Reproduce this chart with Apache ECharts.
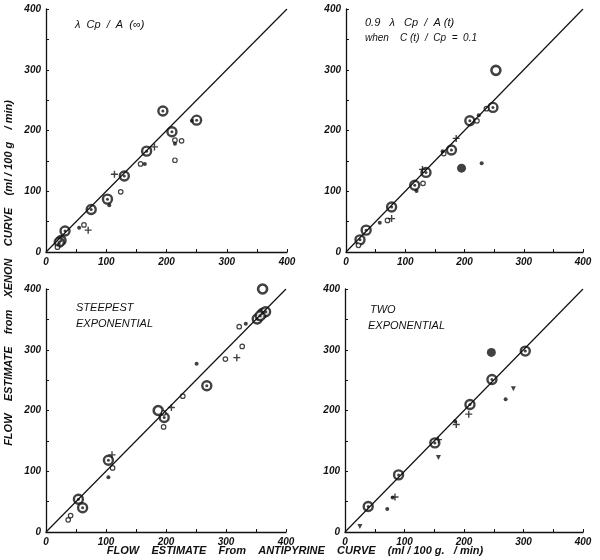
<!DOCTYPE html>
<html><head><meta charset="utf-8">
<script src="https://cdn.jsdelivr.net/npm/echarts@6/dist/echarts.min.js"></script>
<style>html,body{margin:0;padding:0;background:#fff}#c{width:600px;height:560px}</style>
</head><body><div id="c"></div>
<script>
// Identity line
const identity = [[0,0],[400,400]];
const ticks = [0,100,200,300,400];

// Panel 1: λ Cp / A(∞)
const p1Ringed = [[25,19],[22,16],[31.6,34.6],[75,70],[102,87],[130,125],[167,166],[194,232],[209,198],[250,217]];
const p1Open   = [[19,8],[63,44.5],[124,99],[157,145],[214,184],[225,183],[214,151]];
const p1Dot    = [[105,77],[55,40],[164,145],[214,178],[21,12],[242,216]];
const p1Plus   = [[113.6,128],[70,36],[180,173]];

// Panel 2: 0.9 λ Cp / A(t)
const p2Ringed = [[23.6,20],[34,36],[77,74],[116,110],[135,131],[178,168],[209,216],[248,238]];
const p2Filled = [[195,138]];
const p2BigOpen= [[253,299]];
const p2Open   = [[21,11],[70,52],[130,113],[165,162],[221,216],[237,236]];
const p2Dot    = [[57,48],[119,100.5],[163,166],[224,225],[229,146]];
const p2Plus   = [[77,55],[129,136],[186,187]];

// Panel 3: steepest exponential
const p3Ringed = [[54,54],[61,40],[104,118],[197,188.5],[268,240.7],[352,350.5],[361,360],[366,362.6],[357,356]];
const p3BigOpen= [[187,200],[361,400]];
const p3Open   = [[37,20],[41,27],[111,105.5],[196,196],[196,173],[228,223.6],[299,284.6],[327,305.5],[322,338]];
const p3Dot    = [[104,90],[251,277],[333,343]];
const p3Plus   = [[110,127],[209,205],[318,287]];

// Panel 4: two exponential
const p4Ringed = [[39,42],[90,94],[151,146.7],[210,210],[247,251],[303,297.8]];
const p4Filled = [[246,295.6]];
const p4Dot    = [[71,38],[80,56.6],[185,182.4],[270,218.7]];
const p4Plus   = [[84,57.7],[157,152],[208,194],[187,177]];
const p4Tri    = [[25,9],[157,122.5],[283,236]];

const INK = '#111';
const FONT = 'Liberation Sans';
const grids = [
  {left:46, top:9,   width:241, height:243},
  {left:346,top:9,   width:237, height:243},
  {left:46, top:289, width:240, height:243},
  {left:345,top:289, width:238, height:243}
];
function axis(i, isX){
  return {
    type:'value', gridIndex:i, min:0, max:400, interval:50,
    axisLine:{show:true, onZero:false, lineStyle:{color:INK, width:1.3}},
    axisTick:{show:true, inside:true, length:3, lineStyle:{color:INK}},
    splitLine:{show:false},
    axisLabel:{show:true, margin:5, color:INK, fontStyle:'italic', fontWeight:'bold', fontFamily:FONT, fontSize:10,
      formatter:v=> (ticks.indexOf(v)>=0 ? String(v) : '')}
  };
}
const PLUS = 'path://M4,0L6,0L6,4L10,4L10,6L6,6L6,10L4,10L4,6L0,6L0,4L4,4Z';
const series = [];
function add(i, data, kind){
  if(!data) return;
  const base = {type:'scatter', xAxisIndex:i, yAxisIndex:i, data:data, silent:true, animation:false};
  if(kind==='ringed'){
    series.push(Object.assign({}, base, {symbol:'circle', symbolSize:9, itemStyle:{color:'#fff', borderColor:INK, borderWidth:2.4}}));
    series.push(Object.assign({}, base, {symbol:'circle', symbolSize:3, itemStyle:{color:INK}}));
  } else if(kind==='filled'){
    series.push(Object.assign({}, base, {symbol:'circle', symbolSize:9, itemStyle:{color:INK}}));
  } else if(kind==='bigOpen'){
    series.push(Object.assign({}, base, {symbol:'circle', symbolSize:9, itemStyle:{color:'#fff', borderColor:INK, borderWidth:2.6}}));
  } else if(kind==='open'){
    series.push(Object.assign({}, base, {symbol:'circle', symbolSize:4.5, itemStyle:{color:'#fff', borderColor:INK, borderWidth:1.2}}));
  } else if(kind==='dot'){
    series.push(Object.assign({}, base, {symbol:'circle', symbolSize:4, itemStyle:{color:INK}}));
  } else if(kind==='plus'){
    series.push(Object.assign({}, base, {symbol:PLUS, symbolSize:7, itemStyle:{color:INK}}));
  } else if(kind==='tri'){
    series.push(Object.assign({}, base, {symbol:'triangle', symbolRotate:180, symbolSize:5, itemStyle:{color:INK}}));
  }
}
for(let i=0;i<4;i++){
  series.push({type:'line', xAxisIndex:i, yAxisIndex:i, data:identity, symbol:'none', silent:true, animation:false,
    lineStyle:{color:INK, width:1.2}});
}
add(0,p1Ringed,'ringed'); add(0,p1Open,'open'); add(0,p1Dot,'dot'); add(0,p1Plus,'plus');
add(1,p2Ringed,'ringed'); add(1,p2Filled,'filled'); add(1,p2BigOpen,'bigOpen'); add(1,p2Open,'open'); add(1,p2Dot,'dot'); add(1,p2Plus,'plus');
add(2,p3Ringed,'ringed'); add(2,p3BigOpen,'bigOpen'); add(2,p3Open,'open'); add(2,p3Dot,'dot'); add(2,p3Plus,'plus');
add(3,p4Ringed,'ringed'); add(3,p4Filled,'filled'); add(3,p4Dot,'dot'); add(3,p4Plus,'plus'); add(3,p4Tri,'tri');

function txt(x,y,s,size){
  return {type:'text', left:x, top:y, style:{text:s, fill:INK, font:'italic '+(size||11)+'px "'+FONT+'"'}};
}
const chart = echarts.init(document.getElementById('c'), null, {renderer:'canvas'});
chart.setOption({
  backgroundColor:'#fff',
  animation:false,
  grid:grids,
  xAxis:[0,1,2,3].map(i=>axis(i,true)),
  yAxis:[0,1,2,3].map(i=>axis(i,false)),
  series:series,
  graphic:[
    txt(75,19,'λ  Cp  /  A  (∞)'),
    txt(365,17,'0.9   λ   Cp  /  A (t)'),
    txt(365,33,'when    C (t)  /  Cp  =  0.1', 10),
    txt(76,302,'STEEPEST'),
    txt(76,318,'EXPONENTIAL'),
    txt(370,304,'TWO'),
    txt(368,320,'EXPONENTIAL'),
    {type:'text', x:9, y:273, rotation:Math.PI/2, style:{text:'FLOW    ESTIMATE    from    XENON    CURVE    (ml / 100 g    / min)', fill:INK, font:'italic bold 11px "'+FONT+'"', align:'center', verticalAlign:'middle'}},
    {type:'text', x:295, y:551, style:{text:'FLOW    ESTIMATE    From    ANTIPYRINE    CURVE    (ml / 100 g.   / min)', fill:INK, font:'italic bold 11px "'+FONT+'"', align:'center', verticalAlign:'middle'}}
  ]
});
</script></body></html>
